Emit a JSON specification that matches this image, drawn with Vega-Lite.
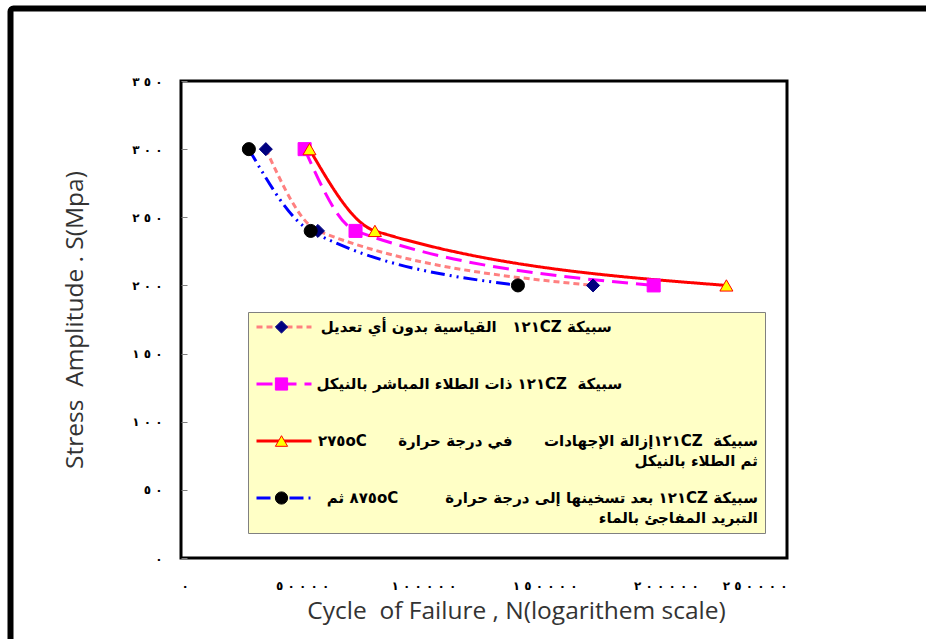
{
  "$schema": "https://vega.github.io/schema/vega-lite/v6.json",
  "width": 606,
  "height": 477,
  "autosize": {"type": "none"},
  "padding": {"left": 181, "top": 81, "right": 139, "bottom": 81},
  "background": "white",
  "config": {
    "view": {"stroke": "#000000", "strokeWidth": 3, "fill": "white"}
  },
  "data": {
    "values": [
      {"series": "s1", "cycles": 35000, "stress": 300},
      {"series": "s1", "cycles": 56500, "stress": 240},
      {"series": "s1", "cycles": 170000, "stress": 200},
      {"series": "s2", "cycles": 51000, "stress": 300},
      {"series": "s2", "cycles": 72000, "stress": 240},
      {"series": "s2", "cycles": 195000, "stress": 200},
      {"series": "s3", "cycles": 53000, "stress": 300},
      {"series": "s3", "cycles": 80000, "stress": 240},
      {"series": "s3", "cycles": 225000, "stress": 200},
      {"series": "s4", "cycles": 28000, "stress": 300},
      {"series": "s4", "cycles": 53500, "stress": 240},
      {"series": "s4", "cycles": 139000, "stress": 200}
    ]
  },
  "encoding": {
    "x": {
      "field": "cycles", "type": "quantitative",
      "scale": {"domain": [0, 250000], "nice": false, "zero": true},
      "axis": {
        "values": [0, 50000, 100000, 150000, 200000, 250000],
        "format": "d",
        "labelExpr": "trim(replace(replace(replace(replace(replace(datum.label,regexp('0','g'),'\u0660\u00A0'),regexp('1','g'),'\u0661\u00A0'),regexp('2','g'),'\u0662\u00A0'),regexp('3','g'),'\u0663\u00A0'),regexp('5','g'),'\u0665\u00A0'))",
        "grid": false, "domain": false, "ticks": false,
        "labelPadding": 22,
        "labelFont": "DejaVu Sans", "labelFontWeight": "bold", "labelFontSize": 12, "labelColor": "#000000",
        "title": "Cycle\u00A0 of Failure , N(logarithem scale)",
        "titleFont": "Open Sans", "titleFontWeight": "normal", "titleFontSize": 24.5, "titleColor": "#333333",
        "titlePadding": 8, "titleX": 335
      }
    },
    "y": {
      "field": "stress", "type": "quantitative",
      "scale": {"domain": [0, 350], "nice": false},
      "axis": {
        "values": [0, 50, 100, 150, 200, 250, 300, 350],
        "labelExpr": "trim(replace(replace(replace(replace(replace(datum.label,regexp('0','g'),'\u0660\u00A0'),regexp('1','g'),'\u0661\u00A0'),regexp('2','g'),'\u0662\u00A0'),regexp('3','g'),'\u0663\u00A0'),regexp('5','g'),'\u0665\u00A0'))",
        "grid": false, "domain": false, "ticks": true, "tickSize": -6, "tickColor": "#808080", "tickWidth": 1,
        "labelPadding": 25,
        "labelFont": "DejaVu Sans", "labelFontWeight": "bold", "labelFontSize": 12, "labelColor": "#000000",
        "title": "Stress\u00A0 Amplitude . S(Mpa)",
        "titleFont": "Open Sans", "titleFontWeight": "normal", "titleFontSize": 24.5, "titleColor": "#333333",
        "titlePadding": 44
      }
    }
  },
  "layer": [
    {
      "mark": {"type": "line", "interpolate": "monotone"},
      "encoding": {
        "color": {
          "field": "series", "type": "nominal",
          "scale": {"range": ["#FF8080", "#FF00FF", "#FF0000", "#0000FF"]},
          "legend": {
            "orient": "none", "legendX": 67, "legendY": 231, "title": null,
            "padding": 7, "fillColor": "#FFFFC6", "strokeColor": "#808080",
            "symbolType": "stroke", "symbolSize": 3025, "symbolStrokeWidth": 3,
            "clipHeight": 16, "gridAlign": "all", "rowPadding": 21, "labelOffset": 445,
            "labelFont": "DejaVu Sans", "labelFontSize": 15, "labelFontWeight": "bold", "labelColor": "#000000",
            "labelLimit": 2000, "labelBaseline": "middle", "labelAlign": "right",
            "encode": {"labels": {"update": {"lineHeight": {"value": 20}}}},
            "labelExpr": "datum.value == 's1' ? '\u202B\u0633\u0628\u064A\u0643\u0629 \u0661\u0662\u0661CZ\u00A0\u00A0 \u0627\u0644\u0642\u064A\u0627\u0633\u064A\u0629 \u0628\u062F\u0648\u0646 \u0623\u064A \u062A\u0639\u062F\u064A\u0644\u202C\u00A0\u00A0\u00A0\u00A0\u00A0\u00A0\u00A0\u00A0\u00A0\u00A0\u00A0\u00A0\u00A0\u00A0\u00A0\u00A0\u00A0\u00A0\u00A0\u00A0\u00A0\u00A0\u00A0\u00A0\u00A0\u00A0\u00A0\u00A0\u200E' : datum.value == 's2' ? '\u202B\u0633\u0628\u064A\u0643\u0629\u00A0 \u0661\u0662\u0661CZ \u0630\u0627\u062A \u0627\u0644\u0637\u0644\u0627\u0621 \u0627\u0644\u0645\u0628\u0627\u0634\u0631 \u0628\u0627\u0644\u0646\u064A\u0643\u0644\u202C\u00A0\u00A0\u00A0\u00A0\u00A0\u00A0\u00A0\u00A0\u00A0\u00A0\u00A0\u00A0\u00A0\u00A0\u00A0\u00A0\u00A0\u00A0\u00A0\u00A0\u00A0\u00A0\u00A0\u00A0\u00A0\u00A0\u200E' : datum.value == 's3' ? ['\u202B\u0633\u0628\u064A\u0643\u0629\u00A0 \u0661\u0662\u0661CZ\u0625\u0632\u0627\u0644\u0629 \u0627\u0644\u0625\u062C\u0647\u0627\u062F\u0627\u062A\u00A0\u00A0\u00A0\u00A0\u00A0 \u0641\u064A \u062F\u0631\u062C\u0629 \u062D\u0631\u0627\u0631\u0629\u00A0\u00A0\u00A0\u00A0\u00A0 \u0662\u0667\u0665oC\u202C', '\u202B\u062B\u0645 \u0627\u0644\u0637\u0644\u0627\u0621 \u0628\u0627\u0644\u0646\u064A\u0643\u0644\u202C'] : ['\u202B\u0633\u0628\u064A\u0643\u0629 \u0661\u0662\u0661CZ \u0628\u0639\u062F \u062A\u0633\u062E\u064A\u0646\u0647\u0627 \u0625\u0644\u0649 \u062F\u0631\u062C\u0629 \u062D\u0631\u0627\u0631\u0629\u00A0\u00A0\u00A0\u00A0\u00A0\u00A0\u00A0\u00A0 \u0668\u0667\u0665oC \u062B\u0645\u202C', '\u202B\u0627\u0644\u062A\u0628\u0631\u064A\u062F \u0627\u0644\u0645\u0641\u0627\u062C\u0626 \u0628\u0627\u0644\u0645\u0627\u0621\u202C']"
          }
        },
        "strokeDash": {
          "field": "series", "type": "nominal",
          "scale": {"range": [[6, 4], [16, 8], [1, 0], [14, 5, 2, 5, 2, 5]]}
        },
        "strokeWidth": {
          "field": "series", "type": "ordinal",
          "scale": {"domain": ["s4", "s3", "s2", "s1"], "range": [3, 3, 3, 3]},
          "legend": {
            "orient": "none", "legendX": -170.5, "legendY": -72.5, "title": null,
            "padding": 700, "fillColor": null, "strokeColor": "#000000", "cornerRadius": 3,
            "encode": {"legend": {"update": {"strokeWidth": {"value": 6}}}},
            "symbolOpacity": 0, "labelOpacity": 0, "labelExpr": "''"
          }
        }
      }
    },
    {
      "mark": {"type": "point", "filled": true, "size": 170, "strokeWidth": 1, "opacity": 1},
      "encoding": {
        "shape": {
          "field": "series", "type": "nominal",
          "scale": {"domain": ["s1", "s2", "s3", "s4"], "range": ["diamond", "square", "triangle-up", "circle"]},
          "legend": {
            "orient": "none", "legendX": 86, "legendY": 231, "title": null,
            "padding": 7, "fillColor": null, "strokeColor": null,
            "symbolSize": 150, "symbolStrokeWidth": 1, "symbolOpacity": 1,
            "clipHeight": 16, "gridAlign": "all", "rowPadding": 21, "labelOffset": 6,
            "labelFont": "DejaVu Sans", "labelFontSize": 15, "labelFontWeight": "bold", "labelOpacity": 0,
            "labelLimit": 2000, "labelBaseline": "middle",
            "encode": {"labels": {"update": {"lineHeight": {"value": 20}}}},
            "labelExpr": "datum.value == 's1' || datum.value == 's2' ? 'x' : ['x', 'x']"
          }
        },
        "fill": {
          "field": "series", "type": "nominal",
          "scale": {"domain": ["s1", "s2", "s3", "s4"], "range": ["#000080", "#FF00FF", "#FFFF00", "#000000"]},
          "legend": {
            "orient": "none", "legendX": 86, "legendY": 231, "title": null,
            "padding": 7, "fillColor": null, "strokeColor": null,
            "symbolSize": 150, "symbolStrokeWidth": 1, "symbolOpacity": 1,
            "clipHeight": 16, "gridAlign": "all", "rowPadding": 21, "labelOffset": 6,
            "labelFont": "DejaVu Sans", "labelFontSize": 15, "labelFontWeight": "bold", "labelOpacity": 0,
            "labelLimit": 2000, "labelBaseline": "middle",
            "encode": {"labels": {"update": {"lineHeight": {"value": 20}}}},
            "labelExpr": "datum.value == 's1' || datum.value == 's2' ? 'x' : ['x', 'x']"
          }
        },
        "stroke": {
          "field": "series", "type": "nominal",
          "scale": {"domain": ["s1", "s2", "s3", "s4"], "range": ["#000080", "#FF00FF", "#FF0000", "#000000"]},
          "legend": {
            "orient": "none", "legendX": 86, "legendY": 231, "title": null,
            "padding": 7, "fillColor": null, "strokeColor": null,
            "symbolSize": 150, "symbolStrokeWidth": 1, "symbolOpacity": 1,
            "clipHeight": 16, "gridAlign": "all", "rowPadding": 21, "labelOffset": 6,
            "labelFont": "DejaVu Sans", "labelFontSize": 15, "labelFontWeight": "bold", "labelOpacity": 0,
            "labelLimit": 2000, "labelBaseline": "middle",
            "encode": {"labels": {"update": {"lineHeight": {"value": 20}}}},
            "labelExpr": "datum.value == 's1' || datum.value == 's2' ? 'x' : ['x', 'x']"
          }
        }
      }
    }
  ]
}
